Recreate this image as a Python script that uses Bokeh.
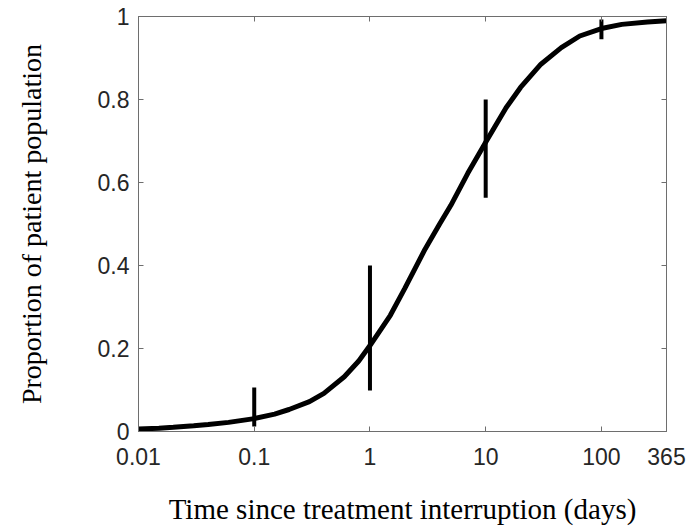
from bokeh.plotting import figure
from bokeh.models import (Range1d, LogAxis, LinearAxis, FixedTicker,
                          CustomJSTickFormatter, ColumnDataSource)
from bokeh.embed import file_html
from bokeh.resources import INLINE

# ---- data ----
t_curve = [0.01, 0.015, 0.02, 0.03, 0.04, 0.06, 0.1, 0.15, 0.2, 0.3, 0.4,
           0.6, 0.8, 1, 1.5, 2, 3, 4, 5, 7, 10, 15, 20, 30, 45, 65, 100,
           150, 250, 365]
p_curve = [0.006, 0.008, 0.010, 0.014, 0.017, 0.022, 0.031, 0.042, 0.053,
           0.072, 0.092, 0.132, 0.170, 0.207, 0.280, 0.345, 0.440, 0.500,
           0.545, 0.622, 0.697, 0.780, 0.829, 0.885, 0.925, 0.953, 0.971,
           0.981, 0.987, 0.990]

t_err = [0.1, 1, 10, 100]
err_low = [0.012, 0.099, 0.563, 0.945]
err_high = [0.106, 0.400, 0.800, 0.993]

x_ticks = [0.01, 0.1, 1, 10, 100, 365]
y_ticks = [0, 0.2, 0.4, 0.6, 0.8, 1]

x_label = "Time since treatment interruption (days)"
y_label = "Proportion of patient population"

AX_COL = "#6e6e6e"
TXT_COL = "#262626"

p = figure(width=689, height=527, x_axis_type="log",
           x_range=Range1d(0.01, 365), y_range=Range1d(0, 1),
           output_backend="svg", toolbar_location=None,
           min_border_left=138, min_border_right=23,
           min_border_top=16, min_border_bottom=96,
           background_fill_color="white", border_fill_color="white")
p.grid.visible = False
p.outline_line_color = AX_COL
p.outline_line_width = 1

fmt = CustomJSTickFormatter(code="return String(tick);")
blank = CustomJSTickFormatter(code="return '';")

def style_axis(ax):
    ax.axis_line_color = AX_COL
    ax.major_tick_line_color = AX_COL
    ax.major_tick_in = 5
    ax.major_tick_out = 0
    ax.minor_tick_in = 0
    ax.minor_tick_out = 0
    ax.major_label_text_font = "Liberation Sans"
    ax.major_label_text_font_size = "23px"
    ax.major_label_text_color = TXT_COL
    ax.axis_label_text_font = "Liberation Serif"
    ax.axis_label_text_font_size = "28px"
    ax.axis_label_text_font_style = "normal"
    ax.axis_label_text_color = "black"

xa = p.xaxis[0]
xa.ticker = FixedTicker(ticks=x_ticks)
xa.formatter = fmt
xa.axis_label = x_label
style_axis(xa)
xa.axis_label_text_font_size = "29px"
xa.major_label_standoff = 16
xa.axis_label_standoff = 25

ya = p.yaxis[0]
ya.ticker = FixedTicker(ticks=y_ticks)
ya.formatter = fmt
ya.axis_label = y_label
style_axis(ya)
ya.major_label_standoff = 9
ya.axis_label_standoff = 48

top = LogAxis(ticker=FixedTicker(ticks=x_ticks), formatter=blank)
style_axis(top)
top.major_label_standoff = 0
p.add_layout(top, "above")
right = LinearAxis(ticker=FixedTicker(ticks=y_ticks), formatter=blank)
style_axis(right)
right.major_label_standoff = 0
p.add_layout(right, "right")

p.line(t_curve, p_curve, line_color="black", line_width=5)
src = ColumnDataSource(dict(x=t_err, lo=err_low, hi=err_high))
p.segment(x0="x", y0="lo", x1="x", y1="hi", source=src,
          line_color="black", line_width=4)

open("out.html", "w").write(file_html(p, INLINE))
